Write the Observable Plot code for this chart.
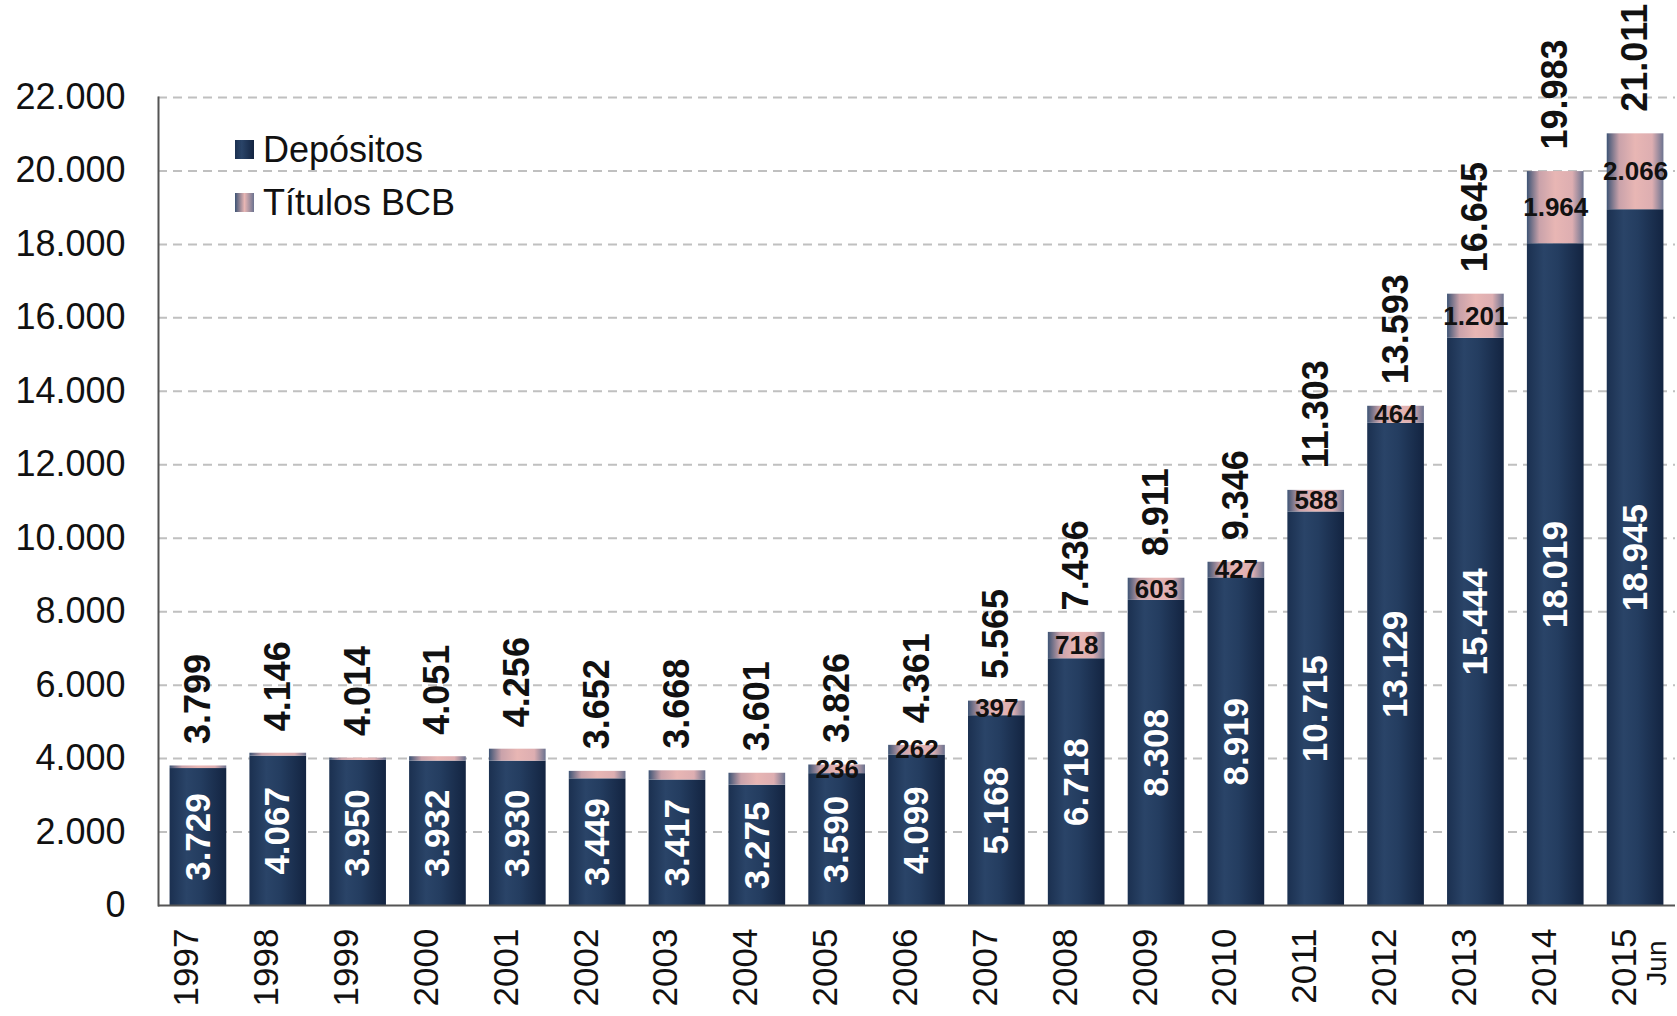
<!DOCTYPE html>
<html>
<head>
<meta charset="utf-8">
<script src="https://cdn.jsdelivr.net/npm/d3@7"></script>
<script src="https://cdn.jsdelivr.net/npm/@observablehq/plot@0.6"></script>
<style>
  html, body { margin: 0; padding: 0; background: #fff; }
  #wrap { position: relative; width: 1677px; height: 1016px; font-family: "Liberation Sans", Arial, sans-serif; }
  #legend { position: absolute; left: 235px; top: 123px; font-size: 36px; color: #111; line-height: 53px; }
  #legend .item { display: flex; align-items: center; height: 53px; }
  #legend .sw { width: 19px; height: 19px; margin-right: 9px; }
</style>
</head>
<body>
<div id="wrap"><div id="legend"></div></div>
<script>
const years = ["1997","1998","1999","2000","2001","2002","2003","2004","2005","2006","2007","2008","2009","2010","2011","2012","2013","2014","2015"];
const depositos = [3729,4067,3950,3932,3930,3449,3417,3275,3590,4099,5168,6718,8308,8919,10715,13129,15444,18019,18945];
const titulos = [70,79,64,119,326,203,251,326,236,262,397,718,603,427,588,464,1201,1964,2066];
const totais = [3799,4146,4014,4051,4256,3652,3668,3601,3826,4361,5565,7436,8911,9346,11303,13593,16645,19983,21011];
const titulosComRotulo = ["2005","2006","2007","2008","2009","2010","2011","2012","2013","2014","2015"];
const yTicks = [0,2000,4000,6000,8000,10000,12000,14000,16000,18000,20000,22000];
const seriesNames = ["Depósitos","Títulos BCB"];
const lastNote = {year: "2015", text: "Jun"};

const fmt = d3.formatLocale({decimal: ",", thousands: ".", grouping: [3], currency: ["", ""]}).format(",d");
const rows = years.map((year, i) => ({year, dep: depositos[i], tit: titulos[i], total: totais[i]}));

const plot = Plot.plot({
  width: 1677,
  height: 1016,
  marginLeft: 158,
  marginRight: 2,
  marginTop: 97,
  marginBottom: 111,
  style: {fontFamily: "Liberation Sans, Arial, sans-serif", background: "transparent", overflow: "visible"},
  x: {type: "band", domain: years, paddingInner: 0.29, paddingOuter: 0.145, round: false, axis: null},
  y: {domain: [0, 22000], axis: null},
  marks: [
    Plot.ruleY(yTicks.filter(t => t > 0), {stroke: "#c0c0c0", strokeWidth: 2, strokeDasharray: "9,6"}),
    Plot.barY(rows, {x: "year", y1: 0, y2: "dep", fill: "url(#gDep)"}),
    Plot.barY(rows, {x: "year", y1: "dep", y2: "total", fill: "url(#gTit)"}),
    Plot.ruleY([0], {stroke: "#555", strokeWidth: 2}),
    Plot.frame({anchor: "left", stroke: "#555", strokeWidth: 2}),
    Plot.axisY({ticks: yTicks, tickFormat: fmt, tickSize: 0, tickPadding: 33, fontSize: 36, label: null, fill: "#111"}),
    Plot.text(years, {x: d => d, frameAnchor: "bottom", rotate: -90, textAnchor: "end", dy: 23, fontSize: 35, fill: "#111"}),
    Plot.text([lastNote], {x: "year", text: "text", frameAnchor: "bottom", rotate: -90, textAnchor: "end", dy: 35, dx: 30, fontSize: 28, fill: "#111"}),
    Plot.text(rows, {x: "year", y: d => d.dep / 2, text: d => fmt(d.dep), rotate: -90, fill: "white", fontSize: 35, fontWeight: "bold"}),
    Plot.text(rows.filter(d => titulosComRotulo.includes(d.year)), {x: "year", y: d => d.dep + d.tit / 2, text: d => fmt(d.tit), fill: "#111", fontSize: 26, fontWeight: "bold"}),
    Plot.text(rows, {x: "year", y: "total", text: d => fmt(d.total), rotate: -90, textAnchor: "start", dy: -22, fill: "#111", fontSize: 36, fontWeight: "bold"})
  ]
});

const ns = "http://www.w3.org/2000/svg";
const defs = document.createElementNS(ns, "defs");
function grad(id, stops) {
  const g = document.createElementNS(ns, "linearGradient");
  g.setAttribute("id", id);
  g.setAttribute("x1", "0"); g.setAttribute("x2", "1"); g.setAttribute("y1", "0"); g.setAttribute("y2", "0");
  for (const [o, c] of stops) {
    const s = document.createElementNS(ns, "stop");
    s.setAttribute("offset", o); s.setAttribute("stop-color", c);
    g.appendChild(s);
  }
  defs.appendChild(g);
}
grad("gDep", [["0", "#1b3050"], ["0.3", "#2a4468"], ["0.55", "#243d60"], ["1", "#132441"]]);
grad("gTit", [["0", "#3e5475"], ["0.22", "#c9a2aa"], ["0.5", "#e8b6b4"], ["0.8", "#ddaeb1"], ["1", "#6c7390"]]);
plot.insertBefore(defs, plot.firstChild);

document.getElementById("wrap").insertBefore(plot, document.getElementById("legend"));

const legend = document.getElementById("legend");
const swatches = ["linear-gradient(to right, #1b3050, #2a4468 35%, #132441)", "linear-gradient(to right, #3e5475, #e8b6b4 50%, #6c7390)"];
seriesNames.forEach((name, i) => {
  const item = document.createElement("div");
  item.className = "item";
  const sw = document.createElement("div");
  sw.className = "sw";
  sw.style.background = swatches[i];
  const t = document.createElement("span");
  t.textContent = name;
  item.appendChild(sw); item.appendChild(t);
  legend.appendChild(item);
});
</script>
</body>
</html>
